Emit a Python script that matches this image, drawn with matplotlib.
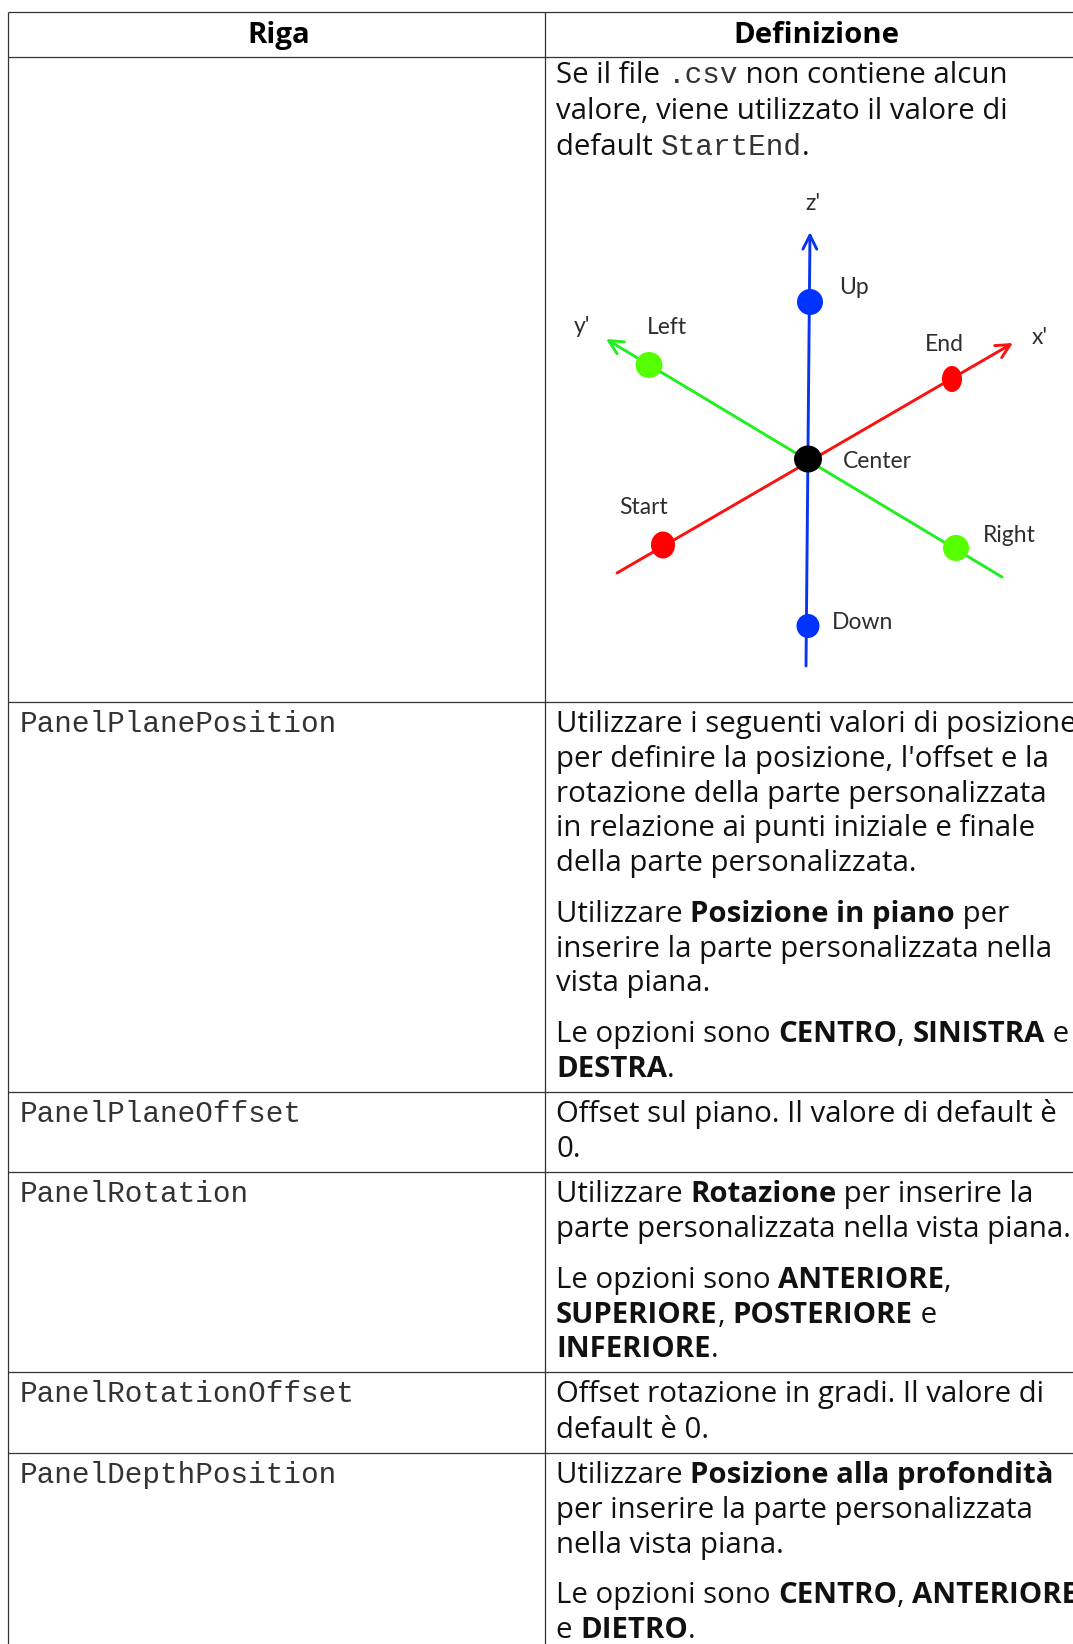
import matplotlib
matplotlib.use("Agg")
import matplotlib.pyplot as plt
from matplotlib.patches import Ellipse

W, H = 1073, 1644

# table content
header = ["Riga", "Definizione"]
row_names = ["PanelPlanePosition", "PanelPlaneOffset", "PanelRotation",
             "PanelRotationOffset", "PanelDepthPosition"]

# each line is a list of (text, style): r = regular, b = bold, m = mono
def_lines = [
    [("Se il file ", "r"), (".csv", "m"), (" non contiene alcun", "r")],
    [("valore, viene utilizzato il valore di", "r")],
    [("default ", "r"), ("StartEnd", "m"), (".", "r")],
    [("Utilizzare i seguenti valori di posizione", "r")],
    [("per definire la posizione, l'offset e la", "r")],
    [("rotazione della parte personalizzata", "r")],
    [("in relazione ai punti iniziale e finale", "r")],
    [("della parte personalizzata.", "r")],
    [("Utilizzare ", "r"), ("Posizione in piano", "b"), (" per", "r")],
    [("inserire la parte personalizzata nella", "r")],
    [("vista piana.", "r")],
    [("Le opzioni sono ", "r"), ("CENTRO", "b"), (", ", "r"), ("SINISTRA", "b"), (" e", "r")],
    [("DESTRA", "b"), (".", "r")],
    [("Offset sul piano. Il valore di default è", "r")],
    [("0.", "r")],
    [("Utilizzare ", "r"), ("Rotazione", "b"), (" per inserire la", "r")],
    [("parte personalizzata nella vista piana.", "r")],
    [("Le opzioni sono ", "r"), ("ANTERIORE", "b"), (",", "r")],
    [("SUPERIORE", "b"), (", ", "r"), ("POSTERIORE", "b"), (" e", "r")],
    [("INFERIORE", "b"), (".", "r")],
    [("Offset rotazione in gradi. Il valore di", "r")],
    [("default è 0.", "r")],
    [("Utilizzare ", "r"), ("Posizione alla profondità", "b")],
    [("per inserire la parte personalizzata", "r")],
    [("nella vista piana.", "r")],
    [("Le opzioni sono ", "r"), ("CENTRO", "b"), (", ", "r"), ("ANTERIORE", "b")],
    [("e ", "r"), ("DIETRO", "b"), (".", "r")],
]

# axis diagram, picture coordinates
x_axis = [(617, 573), (1013, 343)]
y_axis = [(1002, 577), (606, 339)]
z_axis = [(806, 666), (810, 232)]
# x, y, width, height
red_pts = [(663, 545, 24, 27), (952, 379, 20, 26)]
green_pts = [(649, 365, 27, 26), (956, 548, 26, 26)]
blue_pts = [(810, 302, 26, 26), (808, 626, 23, 24)]
center_pt = [(808, 459, 28, 27)]
diagram_labels = ["z'", "Up", "y'", "Left", "End", "x'", "Center", "Start", "Right", "Down"]
label_xy = [(813, 210), (854, 294), (582, 333), (667, 334), (944, 351),
            (1040, 344), (877, 468), (644, 514), (1009, 542), (863, 629)]

# layout, shrunk-view pixels scaled up to full size
SCALE = 1073 / 1023
h_lines = [v * SCALE for v in [11.5, 54.5, 669, 1041, 1117.5, 1308.5, 1385.5]]
v_lines = [v * SCALE for v in [7.3, 520]]
def_base = [v * SCALE for v in [79, 113, 147.5, 698, 731, 765, 797, 830, 879, 912, 945,
                                993, 1027, 1070, 1103, 1146, 1179, 1228, 1261, 1294,
                                1337, 1371, 1414, 1447, 1481, 1528, 1562]]
name_base = [v * SCALE for v in [698, 1070, 1146, 1337, 1414]]

styles = {
    "r": dict(family="Open Sans", fontsize=21.13),
    "b": dict(family="Open Sans", fontsize=21.13, fontweight="bold"),
    "m": dict(family="Liberation Mono", fontsize=21.2),
}

fig = plt.figure(figsize=(W / 100, H / 100), dpi=100)
ax = fig.add_axes([0, 0, 1, 1])
ax.set_xlim(0, W)
ax.set_ylim(H, 0)
ax.axis("off")

# grid
for y in h_lines:
    ax.plot([v_lines[0], W], [y, y], color="#333333", lw=0.9, solid_capstyle="butt")
for x in v_lines:
    ax.plot([x, x], [h_lines[0], H], color="#333333", lw=0.9, solid_capstyle="butt")

# header
ax.text(278.5, 41 * SCALE, header[0], ha="center", va="baseline", color="black", **styles["b"])
ax.text(816.5, 41 * SCALE, header[1], ha="center", va="baseline", color="black", **styles["b"])

for name, y in zip(row_names, name_base):
    ax.text(20, y, name, va="baseline", color="#333333", **styles["m"])

# mixed style lines, each run starts where the last one ended
renderer = fig.canvas.get_renderer()
for line, y in zip(def_lines, def_base):
    x = 556
    for txt, st in line:
        col = "#333333" if st == "m" else "#111111"
        ax.text(x, y, txt, va="baseline", color=col, **styles[st])
        # trailing spaces are not measured, swap them for no-break spaces
        probe = ax.text(0, 0, txt.replace(" ", "\u00a0"), **styles[st])
        x += probe.get_window_extent(renderer).width
        probe.remove()

# axis diagram
RED, GREEN, BLUE = "#ff1010", "#22ee22", "#0a35f0"
for pts, col in [(x_axis, RED), (y_axis, GREEN), (z_axis, BLUE)]:
    ax.annotate("", xy=pts[1], xytext=pts[0],
                arrowprops=dict(arrowstyle="->,head_length=1.0,head_width=0.5",
                                color=col, lw=2.1, shrinkA=0, shrinkB=0))
for pts, col in [(red_pts, "#ff0000"), (green_pts, "#55ff00"),
                 (blue_pts, "#0033ff"), (center_pt, "black")]:
    for px, py, pw, ph in pts:
        ax.add_patch(Ellipse((px, py), pw, ph, color=col, lw=0, zorder=3))

for lab, xy in zip(diagram_labels, label_xy):
    ax.text(xy[0], xy[1], lab, ha="center", va="baseline", family="Lato",
            fontsize=16.5, color="#2e2e2e")

fig.savefig("out.png", dpi=100)
